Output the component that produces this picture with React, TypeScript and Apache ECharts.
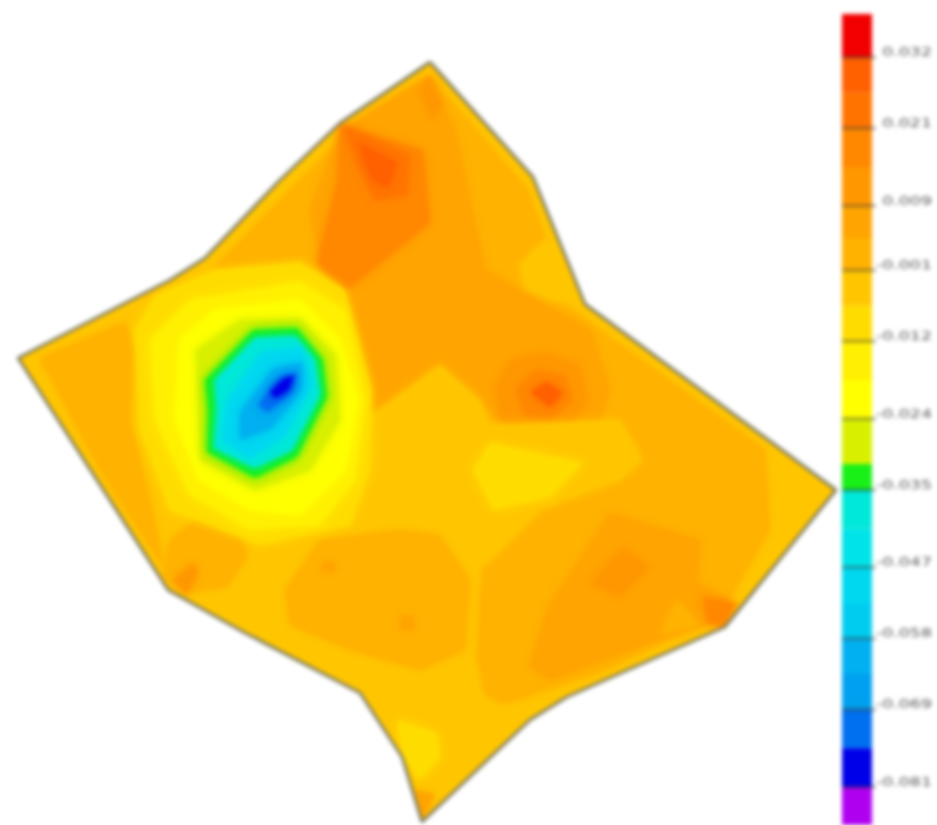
import React, { useEffect, useRef } from "react";
import * as echarts from "echarts";

type Pt = number[];

// Colour scale of the legend, from top to bottom
const bandEdges = [0.0387, 0.032, 0.0265, 0.021, 0.015, 0.009, 0.004, -0.001, -0.0065, -0.012, -0.018, -0.024, -0.031, -0.035, -0.041, -0.047, -0.0525, -0.058, -0.0635, -0.069, -0.075, -0.081, -0.0869];
const bandColors = ["#f20000", "#ff6000", "#ff7400", "#ff8800", "#ff9800", "#ffa400", "#ffb200", "#ffc600", "#ffdc00", "#ffef00", "#ffff00", "#d8f000", "#18f018", "#00e8d8", "#00e4e8", "#00d8f0", "#00ccf0", "#00b0f0", "#00a0f0", "#0070f0", "#0000e8", "#b000f0"];
const tickValues = [0.032, 0.021, 0.009, -0.001, -0.012, -0.024, -0.035, -0.047, -0.058, -0.069, -0.081];
const tickLabels = ["0.032", "0.021", "0.009", "-0.001", "-0.012", "-0.024", "-0.035", "-0.047", "-0.058", "-0.069", "-0.081"];

// Survey outline
const boundary: Pt[] = [[430, 62], [533, 177], [585, 304], [836, 490], [725, 627], [567, 697], [530, 720], [422, 822], [402, 757], [360, 693], [245, 633], [168, 590], [18, 358], [170, 280], [205, 258], [280, 180], [340, 123], [430, 62]];
const maskFrame: Pt[] = [[0, 0], [840, 0], [840, 825], [0, 825], [0, 0]];

// Contours, painted from back to front
const leftAmber: Pt[] = [[40, 358], [125, 322], [135, 350], [130, 420], [150, 500], [165, 570], [100, 470]];
const topLeftAmber: Pt[] = [[140, 300], [210, 272], [285, 195], [335, 145], [345, 290], [300, 270], [210, 285]];
const upperAmber: Pt[] = [[345, 135], [430, 76], [528, 190], [570, 308], [765, 450], [770, 530], [720, 615], [600, 672], [500, 705], [480, 690], [478, 440], [370, 410], [350, 300]];
const rightLightPatch: Pt[] = [[520, 265], [545, 240], [565, 255], [580, 305], [550, 300], [525, 290]];
const centralOrange: Pt[] = [[345, 300], [320, 260], [310, 210], [340, 130], [430, 75], [455, 130], [485, 270], [590, 330], [610, 390], [600, 420], [500, 420], [440, 370], [360, 420]];
const upperOrange: Pt[] = [[340, 125], [423, 150], [430, 223], [347, 290], [317, 263], [337, 183]];
const upperDeep: Pt[] = [[343, 125], [410, 155], [407, 195], [375, 200], [358, 165]];
const upperPeak: Pt[] = [[358, 142], [397, 163], [388, 188], [372, 180]];
const sideSpot: Pt[] = [[325, 245], [345, 250], [340, 275], [325, 272]];
const tipSpot: Pt[] = [[420, 90], [430, 75], [442, 105], [432, 120]];
const midRing: Pt[] = [[495, 385], [510, 360], [545, 352], [580, 365], [587, 400], [570, 430], [530, 435], [500, 420]];
const midInner: Pt[] = [[515, 390], [535, 370], [565, 375], [572, 400], [550, 420], [525, 415]];
const midPeak: Pt[] = [[530, 392], [547, 382], [563, 393], [550, 407]];
const centerLight: Pt[] = [[365, 420], [440, 365], [480, 400], [490, 425], [620, 420], [642, 460], [620, 480], [540, 510], [490, 560], [478, 600], [482, 700], [530, 715], [490, 755], [420, 815], [360, 690], [250, 630], [240, 500]];
const centerYellow: Pt[] = [[473, 470], [490, 443], [583, 463], [550, 497], [493, 510]];
const lowerBlob: Pt[] = [[285, 590], [320, 540], [400, 530], [440, 535], [470, 580], [465, 650], [420, 670], [350, 650], [290, 625]];
const blobDotA: Pt[] = [[322, 562], [335, 562], [335, 572], [322, 572]];
const blobDotB: Pt[] = [[400, 616], [414, 616], [414, 630], [400, 630]];
const stripAmber: Pt[] = [[483, 567], [530, 560], [545, 600], [530, 695], [487, 692], [477, 660]];
const lowerRight: Pt[] = [[530, 667], [547, 610], [610, 513], [700, 540], [697, 583], [730, 600], [717, 622], [650, 643], [550, 680]];
const lowerDiamond: Pt[] = [[623, 547], [650, 567], [620, 597], [590, 583]];
const lowerLightPatch: Pt[] = [[677, 600], [700, 625], [660, 635]];
const cornerOrange: Pt[] = [[703, 597], [737, 603], [723, 627], [707, 623]];
const leftBlob: Pt[] = [[170, 540], [200, 517], [240, 530], [247, 557], [227, 587], [183, 593], [163, 577]];
const leftBlobCorner: Pt[] = [[173, 580], [193, 563], [198, 572], [187, 595]];
const bottomYellow: Pt[] = [[397, 720], [437, 733], [440, 757], [420, 780], [403, 757]];
const bottomTip: Pt[] = [[415, 790], [435, 795], [422, 820]];
const halo: Pt[] = [[135, 330], [155, 295], [215, 270], [300, 262], [345, 290], [372, 390], [370, 470], [350, 525], [260, 545], [170, 510], [140, 430]];
const haloYellow: Pt[] = [[150, 340], [190, 300], [300, 282], [345, 310], [365, 400], [355, 480], [320, 525], [250, 530], [190, 495], [155, 420]];
const brightYellow: Pt[] = [[180, 340], [215, 310], [300, 300], [340, 340], [358, 400], [345, 470], [300, 515], [250, 510], [200, 480], [175, 420]];
const limeRing: Pt[] = [[196, 350], [240, 320], [300, 318], [336, 355], [340, 420], [310, 470], [255, 490], [200, 460]];
const greenRing: Pt[] = [[205, 380], [253, 330], [297, 328], [323, 360], [327, 397], [297, 457], [255, 478], [207, 452], [208, 410]];
const cyanCore: Pt[] = [[215, 380], [255, 338], [295, 336], [315, 360], [320, 395], [292, 450], [255, 468], [214, 448], [217, 410]];
const skyCore: Pt[] = [[228, 400], [262, 352], [302, 348], [312, 385], [285, 435], [250, 458], [222, 440]];
const azureCore: Pt[] = [[240, 412], [273, 368], [302, 362], [302, 390], [272, 428], [240, 440]];
const blueCore: Pt[] = [[258, 405], [280, 378], [297, 372], [292, 392], [268, 412]];
const deepCore: Pt[] = [[270, 392], [285, 378], [294, 376], [288, 390], [275, 398]];

const contours: Pt[][] = [boundary, leftAmber, topLeftAmber, upperAmber, rightLightPatch, centralOrange, upperOrange, upperDeep, upperPeak, sideSpot, tipSpot, midRing, midInner, midPeak, centerLight, centerYellow, lowerBlob, blobDotA, blobDotB, stripAmber, lowerRight, lowerDiamond, lowerLightPatch, cornerOrange, leftBlob, leftBlobCorner, bottomYellow, bottomTip, halo, haloYellow, brightYellow, limeRing, greenRing, cyanCore, skyCore, azureCore, blueCore, deepCore];
const contourLevels = [-0.003, 0.002, 0.002, 0.002, -0.003, 0.006, 0.016, 0.024, 0.03, 0.018, 0.012, 0.012, 0.018, 0.03, -0.003, -0.008, 0.002, 0.006, 0.006, 0.002, 0.006, 0.012, 0.002, 0.018, 0.002, 0.012, -0.008, 0.006, -0.008, -0.015, -0.02, -0.028, -0.033, -0.038, -0.05, -0.06, -0.072, -0.078];

const colorFor = (v: number) => {
  for (let i = 0; i < bandColors.length; i++) {
    if (v <= bandEdges[i] && v > bandEdges[i + 1]) return bandColors[i];
  }
  return bandColors[bandColors.length - 1];
};

export default function App() {
  const ref = useRef<HTMLDivElement>(null);
  useEffect(() => {
    document.body.style.margin = "0";
    document.body.style.background = "#fff";
    const chart = echarts.init(ref.current!, null, { renderer: "svg" });
    const maskPoints = [...maskFrame, ...[...boundary].reverse()];
    chart.setOption({
      animation: false,
      backgroundColor: "#fff",
      grid: [
        { left: 0, top: 0, width: 937, height: 825 },
        { left: 842, top: 14, width: 30, height: 811 },
      ],
      xAxis: [
        { type: "value", gridIndex: 0, min: 0, max: 937, show: false },
        { type: "value", gridIndex: 1, min: 0, max: 1, show: false },
      ],
      yAxis: [
        { type: "value", gridIndex: 0, min: 0, max: 825, inverse: true, show: false },
        { type: "value", gridIndex: 1, min: bandEdges[bandEdges.length - 1], max: bandEdges[0], show: false },
      ],
      series: [
        {
          type: "custom", xAxisIndex: 0, yAxisIndex: 0, clip: false, silent: true, z: 2,
          data: contourLevels.map((lv, i) => [i, lv]),
          renderItem: (params: any, api: any) => {
            const i = params.dataIndex;
            const fill = colorFor(contourLevels[i]);
            return {
              type: "polygon",
              shape: { points: contours[i].map((p) => api.coord(p)) },
              style: i === 0 ? { fill } : { fill, shadowBlur: 10, shadowColor: fill },
            };
          },
        },
        {
          type: "custom", xAxisIndex: 0, yAxisIndex: 0, clip: false, silent: true, z: 3,
          data: [[0, 0]],
          renderItem: (_p: any, api: any) => ({
            type: "polygon",
            shape: { points: maskPoints.map((p) => api.coord(p)) },
            style: { fill: "#fff" },
          }),
        },
        {
          type: "line", xAxisIndex: 0, yAxisIndex: 0, data: boundary, symbol: "none", silent: true, z: 4,
          lineStyle: { color: "#7b7b68", width: 3 },
        },
        {
          type: "custom", xAxisIndex: 1, yAxisIndex: 1, clip: false, silent: true, z: 2,
          data: bandColors.map((_, i) => [0, bandEdges[i], 1, bandEdges[i + 1]]),
          renderItem: (params: any, api: any) => {
            const a = api.coord([0, bandEdges[params.dataIndex]]);
            const b = api.coord([1, bandEdges[params.dataIndex + 1]]);
            return { type: "rect", shape: { x: a[0], y: a[1], width: b[0] - a[0], height: b[1] - a[1] }, style: { fill: bandColors[params.dataIndex] } };
          },
        },
        {
          type: "custom", xAxisIndex: 1, yAxisIndex: 1, clip: false, silent: true, z: 4,
          data: tickValues.map((v) => [1, v]),
          renderItem: (params: any, api: any) => {
            const v = tickValues[params.dataIndex];
            const a = api.coord([0, v]);
            const b = api.coord([1.13, v]);
            return {
              type: "group",
              children: [
                { type: "line", shape: { x1: a[0], y1: a[1], x2: b[0], y2: b[1] }, style: { stroke: "#333", lineWidth: 2, opacity: 0.65 } },
                {
                  type: "text", x: 932, y: a[1] - 5, scaleX: 1.45,
                  style: { text: tickLabels[params.dataIndex], fill: "#555", font: "12px 'DejaVu Sans'", align: "right", verticalAlign: "middle" },
                },
              ],
            };
          },
        },
      ],
    });
    return () => chart.dispose();
  }, []);
  return <div ref={ref} style={{ width: 937, height: 825, filter: "blur(2px)", overflow: "hidden" }} />;
}
